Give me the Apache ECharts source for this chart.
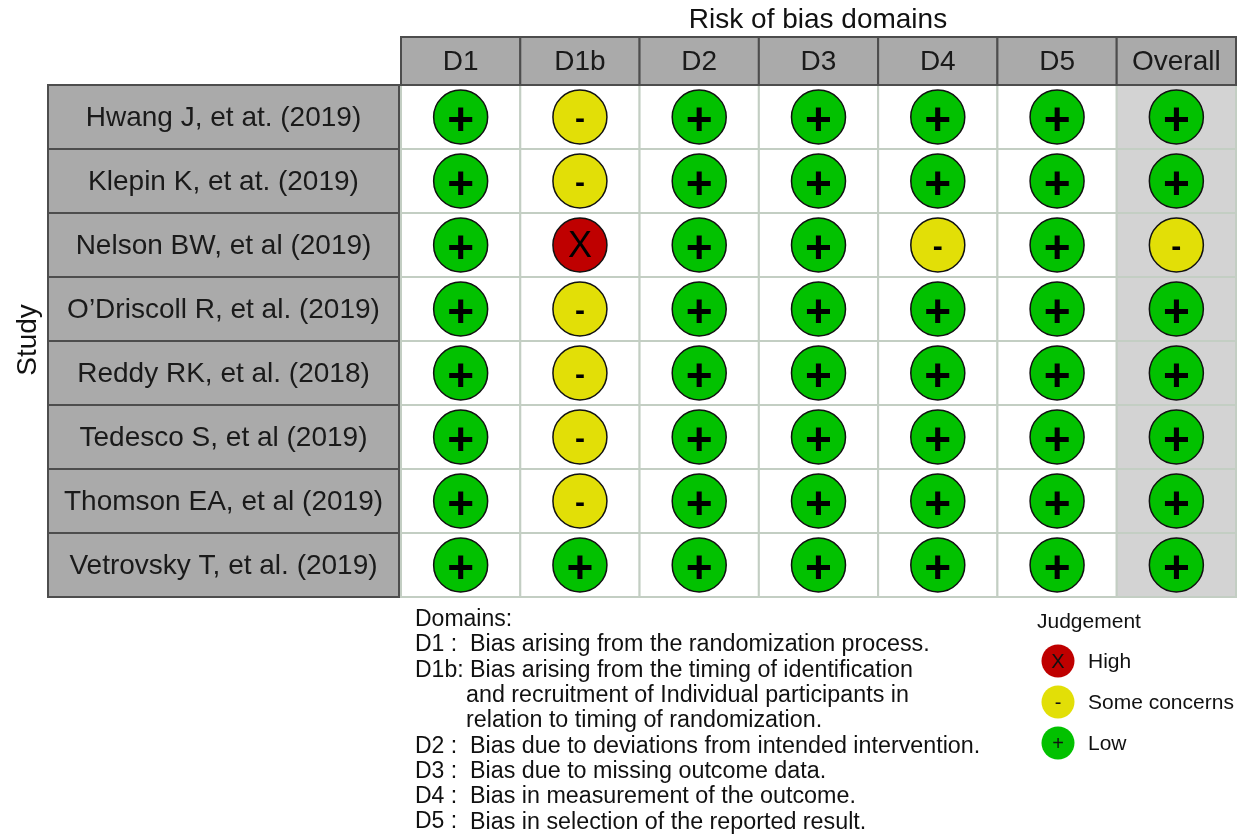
<!DOCTYPE html>
<html>
<head>
<meta charset="utf-8">
<script src="https://cdn.jsdelivr.net/npm/echarts@6/dist/echarts.min.js"></script>
<style>
  html, body { margin: 0; padding: 0; background: #fff; }
  #chart { width: 1246px; height: 837px; }
</style>
</head>
<body>
<div id="chart"></div>
<script>
// studies, top to bottom
var studies = [
  'Hwang J, et at. (2019)',
  'Klepin K, et at. (2019)',
  'Nelson BW, et al (2019)',
  'O\u2019Driscoll R, et al. (2019)',
  'Reddy RK, et al. (2018)',
  'Tedesco S, et al (2019)',
  'Thomson EA, et al (2019)',
  'Vetrovsky T, et al. (2019)'
];
var domains = ['D1', 'D1b', 'D2', 'D3', 'D4', 'D5', 'Overall'];

// judgements per domain, one per study (L = low, S = some concerns, H = high)
var d1      = ['L', 'L', 'L', 'L', 'L', 'L', 'L', 'L'];
var d1b     = ['S', 'S', 'H', 'S', 'S', 'S', 'S', 'L'];
var d2      = ['L', 'L', 'L', 'L', 'L', 'L', 'L', 'L'];
var d3      = ['L', 'L', 'L', 'L', 'L', 'L', 'L', 'L'];
var d4      = ['L', 'L', 'S', 'L', 'L', 'L', 'L', 'L'];
var d5      = ['L', 'L', 'L', 'L', 'L', 'L', 'L', 'L'];
var overall = ['L', 'L', 'S', 'L', 'L', 'L', 'L', 'L'];
var judgements = [d1, d1b, d2, d3, d4, d5, overall];

// domain descriptions (legend text)
var domainKeys = ['D1 :', 'D1b:', '', '', 'D2 :', 'D3 :', 'D4 :', 'D5 :'];
var domainText = [
  'Bias arising from the randomization process.',
  'Bias arising from the timing of identification',
  'and recruitment of Individual participants in',
  'relation to timing of randomization.',
  'Bias due to deviations from intended intervention.',
  'Bias due to missing outcome data.',
  'Bias in measurement of the outcome.',
  'Bias in selection of the reported result.'
];

var judgeNames = { H: 'High', S: 'Some concerns', L: 'Low' };
var judgeOrder = ['H', 'S', 'L'];

var FONT = '"Liberation Sans", Arial, Helvetica, sans-serif';
var colors = { H: '#BF0000', S: '#E2DF07', L: '#02C100' };
var glyph = { H: 'X', S: '-', L: '+' };
var glyphStyle = {
  H: { fontSize: 36, fontWeight: 'normal', dy: 2 },
  S: { fontSize: 30, fontWeight: 'bold', dy: 3 },
  L: { fontSize: 46, fontWeight: 'bold', dy: 5 }
};

// cell / point data
var cellData = [];
var pointData = [];
domains.forEach(function (d, i) {
  studies.forEach(function (s, j) {
    cellData.push([i, j]);
    var k = judgements[i][j];
    pointData.push({
      value: [i, j],
      itemStyle: { color: colors[k] },
      label: {
        formatter: glyph[k],
        fontSize: glyphStyle[k].fontSize,
        fontWeight: glyphStyle[k].fontWeight,
        offset: [0, glyphStyle[k].dy]
      }
    });
  });
});

var chart = echarts.init(document.getElementById('chart'));

function rectOf(api, i, j) {
  var c = api.coord([i, j]);
  var s = api.size([1, 1]);
  return { c: c, x: c[0] - s[0] / 2, y: c[1] - s[1] / 2, w: s[0], h: s[1] };
}

// legend graphics
var graphics = [];
graphics.push({
  type: 'text', x: 1037, y: 622,
  style: { text: 'Judgement', font: '21px ' + FONT, fill: '#111', verticalAlign: 'middle' }
});
judgeOrder.forEach(function (k, n) {
  var cy = 661 + n * 41;
  graphics.push({
    type: 'circle', shape: { cx: 1058, cy: cy, r: 16.5 },
    style: { fill: colors[k] }
  });
  graphics.push({
    type: 'text', x: 1058, y: cy + 1,
    style: { text: glyph[k], font: '20px ' + FONT, fill: '#111', align: 'center', verticalAlign: 'middle' }
  });
  graphics.push({
    type: 'text', x: 1088, y: cy + 1,
    style: { text: judgeNames[k], font: '21px ' + FONT, fill: '#111', verticalAlign: 'middle' }
  });
});
graphics.push({
  type: 'text', x: 415, y: 620,
  style: { text: 'Domains:', font: '23px ' + FONT, fill: '#111', verticalAlign: 'middle' }
});
domainText.forEach(function (t, n) {
  var y = 645 + n * 25.3;
  if (domainKeys[n]) {
    graphics.push({
      type: 'text', x: 415, y: y,
      style: { text: domainKeys[n], font: '23px ' + FONT, fill: '#111', verticalAlign: 'middle' }
    });
  }
  graphics.push({
    type: 'text', x: domainKeys[n] ? 470 : 466, y: y,
    style: { text: t, font: '23.3px ' + FONT, fill: '#111', verticalAlign: 'middle' }
  });
});
graphics.push({
  type: 'text', x: 28, y: 340, rotation: Math.PI / 2,
  style: { text: 'Study', font: '28px ' + FONT, fill: '#111', align: 'center', verticalAlign: 'middle' }
});

var option = {
  animation: false,
  backgroundColor: '#fff',
  title: {
    text: 'Risk of bias domains',
    left: 818, top: 6, padding: 0,
    textAlign: 'center',
    textStyle: { fontFamily: FONT, fontSize: 28, fontWeight: 'normal', color: '#111' }
  },
  grid: [
    { left: 401, top: 85, width: 835, height: 512 },   // matrix
    { left: 401, top: 37, width: 835, height: 48 },    // header
    { left: 48, top: 85, width: 351, height: 512 }     // study labels
  ],
  xAxis: [
    { type: 'category', gridIndex: 0, data: domains, show: false },
    { type: 'category', gridIndex: 1, data: domains, show: false },
    { type: 'category', gridIndex: 2, data: ['Study'], show: false }
  ],
  yAxis: [
    { type: 'category', gridIndex: 0, data: studies, inverse: true, show: false },
    { type: 'category', gridIndex: 1, data: ['head'], show: false },
    { type: 'category', gridIndex: 2, data: studies, inverse: true, show: false }
  ],
  graphic: graphics,
  series: [
    {
      type: 'custom', xAxisIndex: 0, yAxisIndex: 0, z: 1,
      data: cellData,
      renderItem: function (params, api) {
        var i = api.value(0), j = api.value(1);
        var r = rectOf(api, i, j);
        return {
          type: 'rect',
          shape: { x: r.x, y: r.y, width: r.w, height: r.h },
          style: { fill: i === domains.length - 1 ? '#D3D3D3' : '#fff', stroke: '#C3CEC3', lineWidth: 2 }
        };
      }
    },
    {
      type: 'custom', xAxisIndex: 1, yAxisIndex: 1, z: 1,
      data: domains.map(function (d, i) { return [i, 0]; }),
      renderItem: function (params, api) {
        var i = api.value(0);
        var r = rectOf(api, i, 0);
        return {
          type: 'group',
          children: [
            { type: 'rect', shape: { x: r.x, y: r.y, width: r.w, height: r.h },
              style: { fill: '#AAAAAA', stroke: '#4D4D4D', lineWidth: 2 } },
            { type: 'text', style: { text: domains[i], x: r.c[0], y: r.c[1] + 1, align: 'center', verticalAlign: 'middle',
              font: '28px ' + FONT, fill: '#1a1a1a' } }
          ]
        };
      }
    },
    {
      type: 'custom', xAxisIndex: 2, yAxisIndex: 2, z: 1,
      data: studies.map(function (s, j) { return [0, j]; }),
      renderItem: function (params, api) {
        var j = api.value(1);
        var r = rectOf(api, 0, j);
        return {
          type: 'group',
          children: [
            { type: 'rect', shape: { x: r.x, y: r.y, width: r.w, height: r.h },
              style: { fill: '#AAAAAA', stroke: '#4D4D4D', lineWidth: 2 } },
            { type: 'text', style: { text: studies[j], x: r.c[0], y: r.c[1] + 1, align: 'center', verticalAlign: 'middle',
              font: '28px ' + FONT, fill: '#1a1a1a' } }
          ]
        };
      }
    },
    {
      type: 'scatter', xAxisIndex: 0, yAxisIndex: 0, z: 3,
      symbol: 'circle', symbolSize: 54,
      itemStyle: { borderColor: '#111', borderWidth: 1.5, opacity: 1 },
      label: { show: true, position: 'inside', color: '#000', fontFamily: FONT },
      data: pointData
    }
  ]
};
chart.setOption(option);
</script>
</body>
</html>
